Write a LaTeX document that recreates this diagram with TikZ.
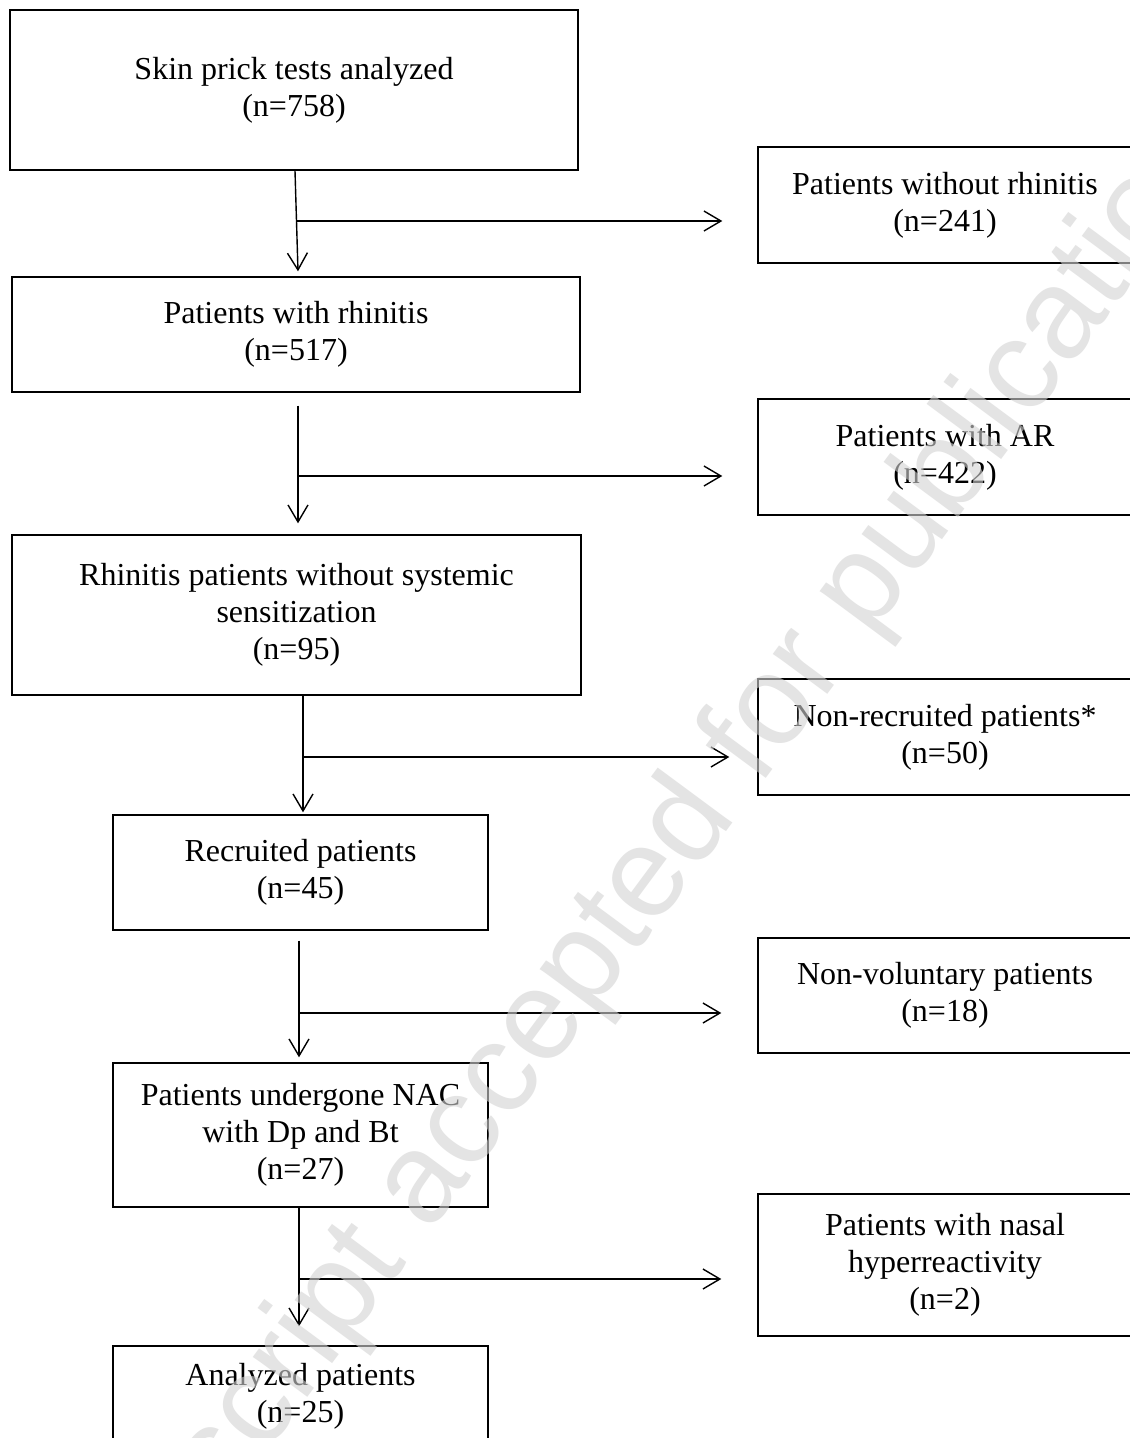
\documentclass[tikz,border=0pt]{standalone}
\usepackage{fontspec}
\setmainfont{Liberation Serif}
\newfontfamily\wmfont{Liberation Sans}
\usetikzlibrary{arrows.meta}
\definecolor{wm}{HTML}{D2D2D2}
\begin{document}
\begin{tikzpicture}[x=1pt,y=-1pt,
  box/.style={draw, line width=1.4pt, rectangle, inner sep=0pt, align=center,
              font=\fontsize{32}{37}\selectfont},
  arr/.style={line width=1.4pt, -{Straight Barb[length=17pt,width=20pt,line width=1.4pt]}},
  watermark/.style={text=wm, text opacity=0.6, font=\wmfont\fontsize{128}{130}\selectfont, inner sep=0pt}]
\useasboundingbox (0,0) rectangle (1130,1438);
\fill[white] (0,0) rectangle (1130,1438);
\clip (0,0) rectangle (1130,1438);

% main column
\node[box, minimum width=568pt, minimum height=160pt] (A) at (294,90)
  {Skin prick tests analyzed\\(n=758)};
\node[box, minimum width=568pt, minimum height=115pt] (B) at (296,334.5)
  {Patients with rhinitis\\(n=517)};
\node[box, minimum width=569pt, minimum height=160pt] (C) at (296.5,615)
  {Rhinitis patients without systemic\\sensitization\\(n=95)};
\node[box, minimum width=375pt, minimum height=115pt] (D) at (300.5,872.5)
  {Recruited patients\\(n=45)};
\node[box, minimum width=375pt, minimum height=144pt] (E) at (300.5,1135)
  {Patients undergone NAC\\with Dp and Bt\\(n=27)};
\node[box, minimum width=375pt, minimum height=100pt] (F) at (300.5,1396)
  {Analyzed patients\\(n=25)};

% excluded column
\node[box, minimum width=374pt, minimum height=116pt] (R1) at (945,205)
  {Patients without rhinitis\\(n=241)};
\node[box, minimum width=374pt, minimum height=116pt] (R2) at (945,457)
  {Patients with AR\\(n=422)};
\node[box, minimum width=374pt, minimum height=116pt] (R3) at (945,737)
  {Non-recruited patients*\\(n=50)};
\node[box, minimum width=374pt, minimum height=115pt] (R4) at (945,995.5)
  {Non-voluntary patients\\(n=18)};
\node[box, minimum width=374pt, minimum height=142pt] (R5) at (945,1265)
  {Patients with nasal\\hyperreactivity\\(n=2)};

% junctions
\coordinate (j1) at (296.5,221);
\coordinate (j2) at (298,476);
\coordinate (j3) at (303,757);
\coordinate (j4) at (299,1013);
\coordinate (j5) at (299,1279);

% vertical arrows
\draw[arr] ([xshift=1pt]A.south) -- ([xshift=2pt,yshift=5pt]B.north);
\draw[arr] ([xshift=2pt,yshift=-13pt]B.south) -- ([xshift=1.5pt,yshift=11pt]C.north);
\draw[arr] ([xshift=6.5pt]C.south) -- ([xshift=2.5pt,yshift=2pt]D.north);
\draw[arr] ([xshift=-1.5pt,yshift=-10pt]D.south) -- ([xshift=-1.5pt,yshift=5pt]E.north);
\draw[arr] ([xshift=-1.5pt]E.south) -- ([xshift=-1.5pt,yshift=19pt]F.north);

% horizontal arrows
\draw[arr, shorten >=35pt] (j1) -- (j1 -| R1.west);
\draw[arr, shorten >=35pt] (j2) -- (j2 -| R2.west);
\draw[arr, shorten >=28pt] (j3) -- (j3 -| R3.west);
\draw[arr, shorten >=36pt] (j4) -- (j4 -| R4.west);
\draw[arr, shorten >=36pt] (j5) -- (j5 -| R5.west);

% watermark
\node[watermark, rotate=53.5] (wm) at (608,936) {Manuscript accepted for publication};
\end{tikzpicture}
\end{document}
